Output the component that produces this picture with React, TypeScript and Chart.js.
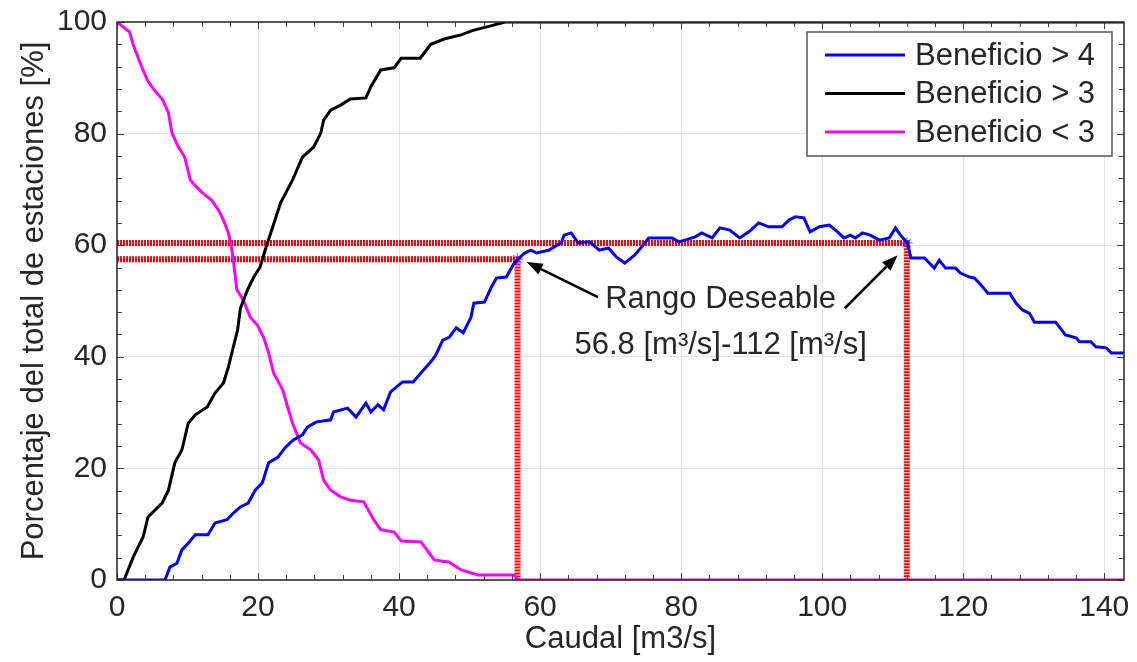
import React, { useEffect, useRef } from "react";
import { Chart, registerables } from "chart.js";

Chart.register(...registerables);

// ---------- data ----------
const X_MIN = 0;
const X_MAX = 142.8;
const Y_MIN = 0;
const Y_MAX = 100;
const MAJOR_STEP = 20;
const MINOR_STEP = 4;

const seriesLabels = ["Beneficio > 4", "Beneficio > 3", "Beneficio < 3"];

const ben4X = [0, 6.8, 7.5, 8.5, 9.2, 10.1, 11.1, 12.9, 13.9, 15.6, 16.5, 17.5, 18.6, 19.6, 20.6, 21.5, 22.8, 23.9, 25.0, 26.3, 27.0, 28.2, 30.3, 30.7, 32.7, 33.9, 35.3, 36.0, 37.0, 37.8, 38.8, 40.5, 42.0, 43.1, 44.5, 45.2, 46.2, 47.1, 48.1, 49.1, 50.2, 50.6, 52.1, 53.1, 53.8, 55.2, 56.2, 56.9, 57.8, 58.7, 59.5, 61.2, 62.0, 63.0, 63.4, 64.4, 65.4, 67.0, 68.4, 69.7, 70.8, 72.0, 73.4, 74.4, 75.4, 78.7, 79.7, 82.0, 82.9, 84.4, 85.5, 86.9, 88.3, 89.6, 91.0, 92.4, 94.3, 95.3, 96.2, 97.4, 98.3, 99.6, 101.0, 101.9, 103.1, 104.0, 104.7, 105.7, 106.8, 108.1, 109.5, 110.4, 111.1, 112.1, 112.6, 114.5, 115.9, 116.6, 117.5, 118.9, 119.6, 120.9, 121.6, 122.3, 123.5, 126.6, 127.5, 128.4, 129.4, 130.1, 133.1, 134.5, 136.0, 136.5, 138.1, 138.8, 140.3, 141.0, 143.5];
const ben4Y = [0, 0, 2.3, 3, 5.4, 6.6, 8.1, 8.1, 10.2, 10.8, 12, 13.1, 13.8, 16.1, 17.4, 21, 22, 23.8, 25.1, 26, 27.4, 28.3, 28.7, 30.1, 30.8, 29.2, 31.7, 30.1, 31.4, 30.5, 33.7, 35.5, 35.5, 37.1, 39.1, 40.3, 43, 43.5, 45.2, 44.3, 47.1, 49.6, 49.8, 52.5, 54.1, 54.3, 56.5, 57.5, 58.6, 59.1, 58.6, 59.1, 59.7, 60.4, 61.8, 62.2, 60.4, 60.6, 59.1, 59.5, 57.9, 56.8, 58.2, 59.7, 61.3, 61.3, 60.6, 61.5, 62.2, 61.3, 63.1, 62.7, 61.3, 62.4, 64, 63.3, 63.3, 64.5, 65.1, 64.9, 62.4, 63.3, 63.6, 62.7, 61.3, 61.8, 61.3, 62.2, 61.8, 60.9, 61.3, 63.1, 61.8, 60.4, 57.7, 57.7, 55.9, 57.3, 55.9, 55.9, 55, 54.3, 54.1, 53.2, 51.4, 51.4, 49.6, 48.4, 47.8, 46.2, 46.2, 43.9, 43.4, 42.7, 42.7, 41.8, 41.6, 40.7, 40.7];

const ben3X = [0, 1.0, 2.3, 3.7, 4.4, 6.4, 7.3, 8.2, 9.2, 10.1, 11.1, 12.8, 13.9, 15.1, 15.8, 16.5, 17.1, 17.5, 18.5, 19.4, 20.3, 21.0, 21.8, 23.2, 24.9, 26.3, 27.9, 28.9, 29.3, 30.3, 31.7, 33.1, 35.3, 36.0, 37.4, 39.3, 40.3, 43.0, 44.5, 46.5, 48.8, 50.5, 53.0, 55.0, 143.5];
const ben3Y = [0, 0, 4.1, 7.7, 11.3, 13.8, 16.1, 21, 23.3, 28.1, 29.6, 31, 33.5, 35.3, 38.2, 41.8, 44.8, 48.7, 52, 54.3, 56.1, 59.1, 62.2, 67.6, 71.7, 75.8, 77.6, 80.1, 82.4, 84.2, 85.1, 86.2, 86.4, 88.4, 91.4, 91.8, 93.5, 93.5, 96, 97, 97.7, 98.5, 99.3, 100, 100];

const benLow3X = [0, 1.8, 2.3, 3.3, 4.3, 5.3, 6.5, 7.3, 7.8, 8.7, 9.6, 10.4, 11.3, 12.2, 13.4, 14.4, 15.1, 15.8, 16.3, 16.5, 17.0, 17.9, 18.9, 19.9, 20.8, 21.5, 22.2, 23.5, 24.2, 24.9, 26.0, 27.5, 28.6, 29.3, 30.3, 31.7, 33.1, 35.0, 36.4, 37.4, 39.3, 40.3, 43.1, 45.0, 47.1, 48.8, 51.2, 56.3, 56.8, 143.5];
const benLow3Y = [100, 98.2, 95.9, 92.6, 89.6, 87.8, 86, 83.7, 80.1, 77.6, 75.8, 71.7, 70.4, 69.3, 68.1, 66.3, 64.5, 62.2, 59.1, 57.3, 52, 50.2, 47.1, 45.7, 43.5, 40.7, 37.1, 34.1, 31, 28.1, 24.6, 23.3, 21.5, 17.9, 16.1, 14.9, 14.3, 14, 10.8, 9, 8.6, 7.0, 6.8, 3.6, 3.2, 1.8, 0.9, 0.9, 0, 0];

// desirable range
const rangeX = [56.8, 112];
const rangeY = [57.5, 60.4];

// annotation
const annotationLines = ["Rango Deseable", "56.8 [m³/s]-112 [m³/s]"];
const annotationAnchor = [85.6, 50.2]; // x, y (data) of first line
const annotationLine2Y = 42.1;
const arrowTails = [[68.2, 50.7], [103.2, 48.7]];
const arrowTips = [[58.1, 57.0], [110.7, 58.2]];

const xTitle = "Caudal [m3/s]";
const yTitle = "Porcentaje del total de estaciones [%]";

const colors = ["#0000ff", "#000000", "#ff00ff"];
const FONT = '"Liberation Sans", Arial, sans-serif';
const TEXT = "#262626";

const zip = (xs: number[], ys: number[]) =>
  xs.slice(0, Math.min(xs.length, ys.length)).map((x, i) => ({ x, y: ys[i] }));

const decorPlugin = {
  id: "decor",
  afterDraw(chart: any) {
    const { ctx, chartArea: a, scales } = chart;
    const xs = scales.x;
    const ys = scales.y;
    const px = (v: number) => xs.getPixelForValue(v);
    const py = (v: number) => ys.getPixelForValue(v);
    ctx.save();

    // inward ticks on all four sides
    ctx.strokeStyle = "#404040";
    ctx.lineWidth = 1;
    ctx.beginPath();
    for (let v = X_MIN; v <= X_MAX + 1e-9; v += MINOR_STEP) {
      const p = Math.round(px(v)) + 0.5;
      const len = v % MAJOR_STEP === 0 ? 7 : 5;
      ctx.moveTo(p, a.bottom);
      ctx.lineTo(p, a.bottom - len);
      ctx.moveTo(p, a.top);
      ctx.lineTo(p, a.top + len);
    }
    for (let v = Y_MIN; v <= Y_MAX + 1e-9; v += MINOR_STEP) {
      const p = Math.round(py(v)) + 0.5;
      const len = v % MAJOR_STEP === 0 ? 7 : 5;
      ctx.moveTo(a.left, p);
      ctx.lineTo(a.left + len, p);
      ctx.moveTo(a.right, p);
      ctx.lineTo(a.right - len, p);
    }
    ctx.stroke();

    // axes box
    ctx.strokeStyle = "#262626";
    ctx.lineWidth = 1.5;
    ctx.strokeRect(a.left, a.top, a.right - a.left, a.bottom - a.top);

    // annotation text
    ctx.fillStyle = TEXT;
    ctx.font = `31px ${FONT}`;
    ctx.textAlign = "center";
    ctx.textBaseline = "middle";
    ctx.fillText(annotationLines[0], px(annotationAnchor[0]), py(annotationAnchor[1]));
    ctx.fillText(annotationLines[1], px(annotationAnchor[0]), py(annotationLine2Y));

    // arrows
    ctx.strokeStyle = "#000";
    ctx.fillStyle = "#000";
    ctx.lineWidth = 2.5;
    for (let i = 0; i < arrowTails.length; i++) {
      const x0 = px(arrowTails[i][0]);
      const y0 = py(arrowTails[i][1]);
      const x1 = px(arrowTips[i][0]);
      const y1 = py(arrowTips[i][1]);
      const ang = Math.atan2(y1 - y0, x1 - x0);
      const hl = 16;
      const hw = 6;
      const bx = x1 - hl * Math.cos(ang);
      const by = y1 - hl * Math.sin(ang);
      ctx.beginPath();
      ctx.moveTo(x0, y0);
      ctx.lineTo(bx, by);
      ctx.stroke();
      ctx.beginPath();
      ctx.moveTo(x1, y1);
      ctx.lineTo(bx + hw * Math.sin(ang), by - hw * Math.cos(ang));
      ctx.lineTo(bx - hw * Math.sin(ang), by + hw * Math.cos(ang));
      ctx.closePath();
      ctx.fill();
    }

    // legend
    const lx = a.right - 317;
    const ly = a.top + 10;
    const lw = 305;
    const lh = 124;
    ctx.fillStyle = "#fff";
    ctx.fillRect(lx, ly, lw, lh);
    ctx.strokeStyle = "#555";
    ctx.lineWidth = 1.5;
    ctx.strokeRect(lx, ly, lw, lh);
    ctx.font = `31px ${FONT}`;
    ctx.textAlign = "left";
    ctx.textBaseline = "middle";
    for (let i = 0; i < seriesLabels.length; i++) {
      const ry = ly + 23 + i * 38.5;
      ctx.strokeStyle = colors[i];
      ctx.lineWidth = 3;
      ctx.beginPath();
      ctx.moveTo(lx + 18, ry);
      ctx.lineTo(lx + 98, ry);
      ctx.stroke();
      ctx.fillStyle = TEXT;
      ctx.fillText(seriesLabels[i], lx + 108, ry + 1);
    }
    ctx.restore();
  },
};

export default function App() {
  const ref = useRef<HTMLCanvasElement | null>(null);

  useEffect(() => {
    if (!ref.current) return;
    const redStyle = {
      borderColor: "#ff0000",
      borderWidth: 6,
      borderDash: [2, 1],
      pointRadius: 0,
      fill: false,
      tension: 0,
    };
    const chart = new Chart(ref.current, {
      type: "line",
      data: {
        datasets: [
          {
            label: seriesLabels[0],
            data: zip(ben4X, ben4Y),
            borderColor: colors[0],
            borderWidth: 3,
            pointRadius: 0,
            tension: 0,
          },
          {
            label: seriesLabels[1],
            data: zip(ben3X, ben3Y),
            borderColor: colors[1],
            borderWidth: 3,
            pointRadius: 0,
            tension: 0,
          },
          {
            label: seriesLabels[2],
            data: zip(benLow3X, benLow3Y),
            borderColor: colors[2],
            borderWidth: 3,
            pointRadius: 0,
            tension: 0,
          },
          {
            label: "marks",
            data: [
              { x: rangeX[0], y: rangeY[0] },
              { x: rangeX[1], y: rangeY[1] },
            ],
            showLine: false,
            pointStyle: "star",
            pointRadius: 6,
            borderColor: "rgba(60,60,255,0.55)",
            backgroundColor: "rgba(60,60,255,0.55)",
            borderWidth: 1.5,
          },
          {
            label: "rangeHigh",
            data: [
              { x: X_MIN, y: rangeY[1] },
              { x: rangeX[1], y: rangeY[1] },
              { x: rangeX[1], y: Y_MIN },
            ],
            ...redStyle,
          },
          {
            label: "rangeLow",
            data: [
              { x: X_MIN, y: rangeY[0] },
              { x: rangeX[0], y: rangeY[0] },
              { x: rangeX[0], y: Y_MIN },
            ],
            ...redStyle,
          },
        ],
      },
      options: {
        responsive: false,
        animation: false,
        devicePixelRatio: 1,
        layout: { padding: { left: 0, right: 13, top: 22, bottom: 0 } },
        plugins: {
          legend: { display: false },
          tooltip: { enabled: false },
        },
        scales: {
          x: {
            type: "linear",
            min: X_MIN,
            max: X_MAX,
            afterFit: (s: any) => {
              s.height = 82;
              s.paddingLeft = 0;
              s.paddingRight = 0;
            },
            ticks: {
              stepSize: MAJOR_STEP,
              includeBounds: false,
              autoSkip: false,
              maxRotation: 0,
              color: TEXT,
              padding: 10,
              font: { family: FONT, size: 30 },
            },
            grid: { color: "#e3e3e3", lineWidth: 1, drawTicks: false },
            border: { display: false },
            title: {
              display: true,
              text: xTitle,
              color: TEXT,
              font: { family: FONT, size: 31 },
              padding: { top: 0, bottom: 4 },
            },
          },
          y: {
            type: "linear",
            min: Y_MIN,
            max: Y_MAX,
            afterFit: (s: any) => {
              s.width = 117;
              s.paddingTop = 0;
              s.paddingBottom = 0;
            },
            ticks: {
              stepSize: MAJOR_STEP,
              autoSkip: false,
              color: TEXT,
              padding: 10,
              font: { family: FONT, size: 30 },
            },
            grid: { color: "#e3e3e3", lineWidth: 1, drawTicks: false },
            border: { display: false },
            title: {
              display: true,
              text: yTitle,
              color: TEXT,
              font: { family: FONT, size: 31 },
              padding: { top: 16, bottom: 0 },
            },
          },
        },
      },
      plugins: [decorPlugin],
    } as any);
    return () => chart.destroy();
  }, []);

  return (
    <div style={{ position: "fixed", left: 0, top: 0, width: 1137, height: 662, background: "#fff" }}>
      <canvas ref={ref} width={1137} height={662} />
    </div>
  );
}
